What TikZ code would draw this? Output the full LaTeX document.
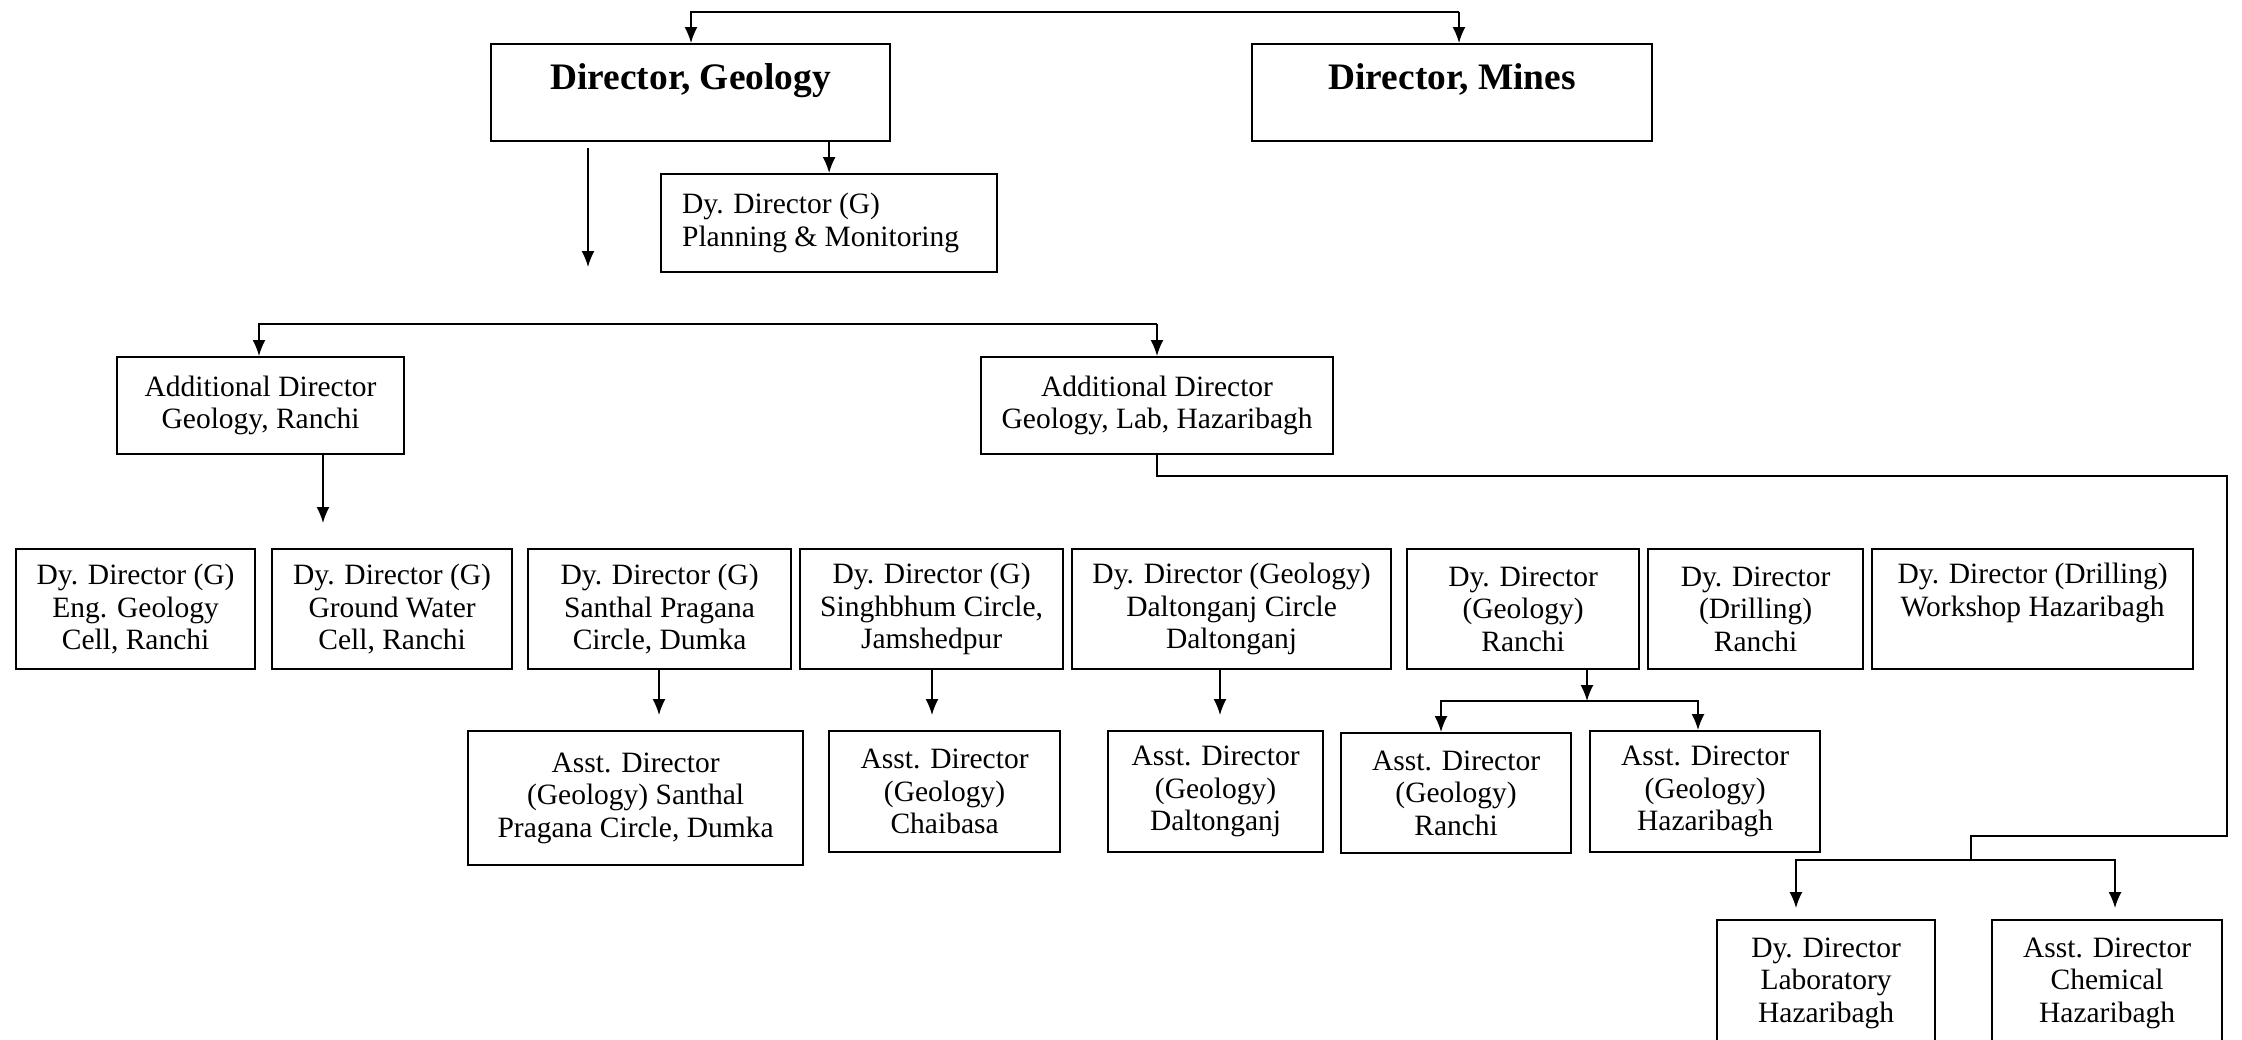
\documentclass[tikz,border=0pt]{standalone}
\usepackage{fontspec}
\setmainfont{Liberation Serif}
\usetikzlibrary{arrows.meta}
\begin{document}
\begin{tikzpicture}[x=0.5pt,y=-0.5pt,
  spanbox/.style n args={4}{anchor=north west, at={(#1,#2)}, minimum width={(#3-#1)*0.5pt}, minimum height={(#4-#2)*0.5pt}},
  box/.style={draw, line width=1.1pt, inner sep=0pt, align=center, font=\fontsize{14.75pt}{16.25pt}\selectfont},
  bigbox/.style={draw, line width=1.1pt, inner sep=0pt, font=\fontsize{18.7pt}{22pt}\selectfont\bfseries, text height=13pt, text depth=16.5pt},
  conn/.style={line width=0.8pt},
  arr/.style={conn, -{Latex[length=8pt,width=6.5pt]}}]
\useasboundingbox (0,0) rectangle (2242,1039);
\clip (0,0) rectangle (2242,1039);
% level 0
\node[bigbox, spanbox={490}{43}{889}{140}] (dg) {Director, Geology};
\node[bigbox, spanbox={1251}{43}{1651}{140}] (dm) {Director, Mines};
\node[box, spanbox={660}{173}{996}{271}] (pm) {\parbox{147pt}{\raggedright Dy. Director (G)\\Planning \& Monitoring}};
\coordinate (tl) at (691,12);
\coordinate (tr) at (1459,12);
\draw[arr] (tr) -- (tl) -- (tl |- dg.north);
\draw[arr] (tr) -- (tr |- dm.north);
\draw[arr] (pm.north |- dg.south) -- (pm.north);
\coordinate (fa) at (588,148);
\coordinate (fb) at (588,267);
\draw[arr] (fa) -- (fb);
% level 1
\node[box, spanbox={116}{356}{403}{453}] (adr) {Additional Director\\Geology, Ranchi};
\node[box, spanbox={980}{356}{1332}{453}] (adl) {Additional Director\\Geology, Lab, Hazaribagh};
\coordinate (la) at (259,324);
\coordinate (lb) at (1157,324);
\draw[arr] (lb) -- (la) -- (la |- adr.north);
\draw[arr] (lb) -- (lb |- adl.north);
\coordinate (ra) at (323,523);
\draw[arr] (ra |- adr.south) -- (ra);
% level 2
\node[box, spanbox={15}{548}{254}{668}] (d1) {Dy. Director (G)\\Eng. Geology\\Cell, Ranchi};
\node[box, spanbox={271}{548}{511}{668}] (d2) {Dy. Director (G)\\Ground Water\\Cell, Ranchi};
\node[box, spanbox={527}{548}{790}{668}] (d3) {Dy. Director (G)\\Santhal Pragana\\Circle, Dumka};
\node[box, spanbox={799}{548}{1062}{668}] (d4) {Dy. Director (G)\\Singhbhum Circle,\\Jamshedpur};
\node[box, spanbox={1071}{548}{1390}{668}] (d5) {Dy. Director (Geology)\\Daltonganj Circle\\Daltonganj};
\node[box, spanbox={1406}{548}{1638}{668}] (d6) {Dy. Director\\(Geology)\\Ranchi};
\node[box, spanbox={1647}{548}{1862}{668}] (d7) {Dy. Director\\(Drilling)\\Ranchi};
\node[box, spanbox={1871}{548}{2192}{668}] (d8) {Dy. Director (Drilling)\\Workshop Hazaribagh\\\phantom{g}};
% level 3
\node[box, spanbox={467}{730}{802}{864}] (a3) {Asst. Director\\(Geology) Santhal\\Pragana Circle, Dumka};
\node[box, spanbox={828}{730}{1059}{851}] (a4) {Asst. Director\\(Geology)\\Chaibasa};
\node[box, spanbox={1107}{730}{1322}{851}] (a5) {Asst. Director\\(Geology)\\Daltonganj};
\node[box, spanbox={1340}{732}{1570}{852}] (a6) {Asst. Director\\(Geology)\\Ranchi};
\node[box, spanbox={1589}{730}{1819}{851}] (a7) {Asst. Director\\(Geology)\\Hazaribagh};
\coordinate (t3) at (659,715);
\coordinate (t4) at (932,715);
\coordinate (t5) at (1220,715);
\draw[arr] (t3 |- d3.south) -- (t3);
\draw[arr] (t4 |- d4.south) -- (t4);
\draw[arr] (t5 |- d5.south) -- (t5);
\coordinate (j6) at (1587,701);
\coordinate (j6a) at (1441,701);
\coordinate (j6b) at (1698,701);
\draw[arr] (j6 |- d6.south) -- (j6);
\draw[arr] (j6) -- (j6a) -- (j6a |- a6.north);
\draw[arr] (j6) -- (j6b) -- (j6b |- a7.north);
% bottom
\node[box, spanbox={1716}{919}{1934}{1045}] (bl) {Dy. Director\\Laboratory\\Hazaribagh};
\node[box, spanbox={1991}{919}{2221}{1045}] (bc) {Asst. Director\\Chemical\\Hazaribagh};
\coordinate (c1) at (1157,476);
\coordinate (c2) at (2227,476);
\coordinate (c3) at (2227,836);
\coordinate (c4) at (1971,836);
\coordinate (j7) at (1971,860);
\coordinate (bla) at (1796,908);
\coordinate (bca) at (2115,908);
\draw[conn] (c1 |- adl.south) -- (c1) -- (c2) -- (c3) -- (c4) -- (j7);
\draw[arr] (j7) -| (bla);
\draw[arr] (j7) -| (bca);
\end{tikzpicture}
\end{document}
